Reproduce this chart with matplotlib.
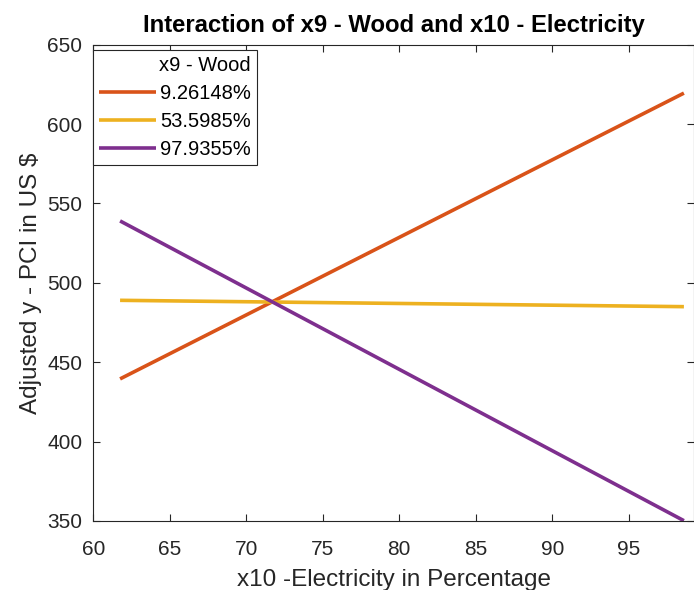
import matplotlib
matplotlib.use("Agg")
import matplotlib.pyplot as plt

plt.rcParams['font.family'] = ['Liberation Sans', 'DejaVu Sans']

x_vals = [61.75, 98.6]
series_labels = ["9.26148%", "53.5985%", "97.9355%"]
series_values = [[439.5, 619.5], [489.0, 485.0], [539.0, 350.2]]
colors = ["#D95319", "#EDB120", "#7E2F8E"]
xticks = [60, 65, 70, 75, 80, 85, 90, 95]
yticks = [350, 400, 450, 500, 550, 600, 650]

fig = plt.figure(figsize=(6.94, 5.90), dpi=100)
ax = fig.add_axes([93.3/694, 69/590, 1 - 93.3/694, (521-44.7)/590])

for lab, vals, c in zip(series_labels, series_values, colors):
    ax.plot(x_vals, vals, color=c, lw=2.6, label=lab, solid_capstyle='butt')

ax.set_xlim(60, 99.26)
ax.set_ylim(350, 650)
ax.set_xticks(xticks)
ax.set_yticks(yticks)
ax.tick_params(direction='in', top=True, right=True, labelsize=15, colors='#262626', length=5, width=0.8)
ax.tick_params(axis='x', pad=14)
ax.tick_params(axis='y', pad=8)
for s in ax.spines.values():
    s.set_color('#262626')
    s.set_linewidth(0.8)

ax.set_title("Interaction of x9 - Wood and x10 - Electricity", fontsize=17.2, fontweight='bold', pad=9)
ax.set_xlabel("x10 -Electricity in Percentage", fontsize=17.5, color='#262626', labelpad=7)
ax.set_ylabel("Adjusted y - PCI in US $", fontsize=17.5, color='#262626', labelpad=4)

leg = ax.legend(title="x9 - Wood", loc='upper left', bbox_to_anchor=(0, 1 - 5.5/476.3),
                fontsize=14.5, title_fontsize=14.5,
                handlelength=2.8, handletextpad=0.2, borderaxespad=0.0,
                fancybox=False, edgecolor='#262626', framealpha=1, alignment='right',
                labelspacing=0.45, borderpad=0.3)
leg.get_frame().set_linewidth(0.8)

fig.savefig("out.png", dpi=100)
